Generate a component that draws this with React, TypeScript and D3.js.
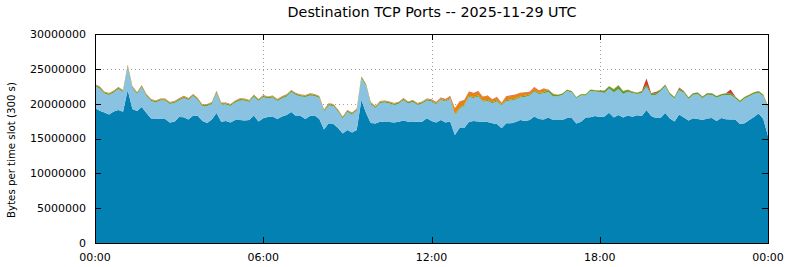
import React from "react";
import * as d3 from "d3";

const TITLE = "Destination TCP Ports -- 2025-11-29 UTC";
const Y_LABEL = "Bytes per time slot (300 s)";
const STEP_MIN = 10;
const UNIT = 1e6; // series below are in millions of bytes

const yTicks = [0, 5000000, 10000000, 15000000, 20000000, 25000000, 30000000];
const xTickMinutes = [0, 360, 720, 1080, 1440];
const xTickLabels = ["00:00", "06:00", "12:00", "18:00", "00:00"];

const darkBlue = [
  19.38, 18.99, 18.73, 18.44, 18.88, 19.09, 18.85, 21.96, 19.23, 18.95,
  19.52, 18.66, 17.87, 17.87, 17.8, 17.8, 17.3, 17.41, 18.09, 18.04,
  17.73, 18.3, 18.23, 17.51, 17.22, 17.73, 18.66, 17.41, 17.51, 17.3,
  17.66, 17.66, 17.58, 17.66, 18.3, 17.44, 17.9, 18.09, 18.16, 17.8,
  18.16, 18.37, 18.8, 18.23, 18.23, 17.8, 18.23, 18.3, 17.8, 16.29,
  17.18, 17.08, 16.51, 15.72, 16.22, 15.86, 16.22, 20.53, 18.66, 17.22,
  17.15, 17.41, 17.37, 17.37, 17.3, 17.41, 17.58, 17.41, 17.44, 17.41,
  17.41, 17.9, 17.51, 17.3, 17.66, 17.3, 17.44, 15.5, 16.51, 16.51,
  17.37, 17.51, 17.44, 17.41, 17.37, 17.18, 17.08, 16.46, 17.18, 17.18,
  17.37, 17.66, 17.51, 17.66, 18.16, 17.8, 17.73, 18.01, 17.66, 17.66,
  17.66, 17.94, 17.94, 17.15, 17.41, 18.01, 18.04, 18.23, 18.09, 18.16,
  18.7, 18.01, 18.37, 18.01, 18.3, 18.13, 18.33, 18.23, 19.09, 18.23,
  17.94, 17.94, 18.66, 17.87, 17.44, 18.44, 18.01, 17.58, 17.9, 17.8,
  17.66, 17.87, 17.94, 17.51, 17.94, 17.76, 17.73, 17.73, 17.08, 17.18,
  17.66, 18.09, 18.59, 17.8, 15.36,
];

const lightBlue = [
  3.14, 3.15, 2.72, 2.79, 2.71, 3.0, 2.81, 3.29, 3.01, 2.42,
  2.86, 2.43, 2.5, 2.28, 2.64, 2.64, 2.64, 2.67, 2.35, 2.76,
  2.78, 2.79, 2.28, 2.07, 2.43, 2.21, 2.86, 2.46, 2.36, 2.35,
  2.49, 2.81, 2.86, 2.57, 2.72, 2.93, 3.04, 2.64, 2.71, 2.57,
  2.57, 2.65, 2.86, 3.0, 2.79, 3.14, 2.96, 2.79, 3.0, 2.57,
  2.57, 2.57, 2.35, 2.14, 2.57, 2.57, 2.79, 3.07, 3.86, 2.72,
  2.22, 2.67, 2.78, 2.64, 2.5, 2.57, 2.93, 2.6, 2.79, 2.39,
  2.6, 2.54, 2.79, 2.58, 2.87, 3.01, 3.23, 2.87, 2.72, 3.23,
  3.59, 3.3, 3.59, 2.87, 3.01, 2.87, 3.23, 3.28, 3.2, 3.27,
  3.23, 3.23, 3.45, 3.51, 3.56, 3.59, 3.76, 3.66, 3.37, 3.4,
  3.58, 3.88, 3.66, 3.66, 3.76, 3.16, 3.78, 3.52, 3.58, 3.37,
  3.48, 3.59, 3.74, 3.38, 3.42, 3.36, 3.06, 3.3, 3.35, 3.01,
  3.3, 3.83, 3.83, 3.4, 3.3, 3.48, 3.55, 3.08, 3.37, 3.54,
  3.11, 3.4, 3.29, 3.33, 3.19, 3.47, 3.51, 3.04, 3.12, 3.56,
  3.4, 3.28, 2.97, 3.26, 4.05,
];

const green = [
  0.2, 0.21, 0.2, 0.19, 0.2, 0.21, 0.2, 0.22, 0.2, 0.19,
  0.2, 0.2, 0.19, 0.2, 0.21, 0.2, 0.19, 0.2, 0.2, 0.21,
  0.2, 0.19, 0.2, 0.21, 0.2, 0.2, 0.22, 0.2, 0.19, 0.2,
  0.2, 0.21, 0.2, 0.2, 0.19, 0.2, 0.21, 0.2, 0.2, 0.19,
  0.2, 0.21, 0.2, 0.19, 0.2, 0.2, 0.21, 0.2, 0.2, 0.19,
  0.2, 0.2, 0.19, 0.2, 0.2, 0.21, 0.2, 0.22, 0.2, 0.2,
  0.19, 0.2, 0.2, 0.21, 0.2, 0.19, 0.2, 0.2, 0.21, 0.2,
  0.2, 0.19, 0.2, 0.15, 0.15, 0.15, 0.14, 0.16, 0.15, 0.15,
  0.15, 0.14, 0.15, 0.15, 0.15, 0.16, 0.15, 0.15, 0.15, 0.14,
  0.15, 0.15, 0.16, 0.15, 0.15, 0.15, 0.16, 0.3, 0.33, 0.18,
  0.18, 0.18, 0.18, 0.13, 0.18, 0.18, 0.18, 0.18, 0.18, 0.32,
  0.32, 0.45, 0.5, 0.38, 0.28, 0.2, 0.19, 0.24, 0.3, 0.25,
  0.25, 0.22, 0.22, 0.22, 0.22, 0.26, 0.22, 0.22, 0.22, 0.22,
  0.22, 0.22, 0.22, 0.22, 0.22, 0.22, 0.26, 0.22, 0.22, 0.22,
  0.22, 0.22, 0.22, 0.22, 0.22,
];

const orange = [
  0.06, 0.06, 0.05, 0.06, 0.07, 0.06, 0.06, 0.08, 0.06, 0.05,
  0.06, 0.06, 0.07, 0.06, 0.05, 0.06, 0.07, 0.06, 0.08, 0.08,
  0.08, 0.07, 0.06, 0.06, 0.05, 0.06, 0.07, 0.06, 0.06, 0.05,
  0.06, 0.06, 0.07, 0.06, 0.06, 0.05, 0.06, 0.06, 0.07, 0.08,
  0.08, 0.07, 0.06, 0.06, 0.05, 0.06, 0.06, 0.05, 0.06, 0.06,
  0.06, 0.05, 0.06, 0.06, 0.05, 0.06, 0.06, 0.07, 0.06, 0.06,
  0.06, 0.07, 0.06, 0.06, 0.05, 0.06, 0.06, 0.07, 0.06, 0.06,
  0.06, 0.07, 0.08, 0.13, 0.13, 0.13, 0.2, 0.73, 0.85, 0.56,
  0.56, 0.49, 0.56, 0.49, 0.56, 0.34, 0.42, 0.17, 0.49, 0.49,
  0.49, 0.46, 0.42, 0.3, 0.44, 0.27, 0.46, 0.03, 0.06, 0.01,
  0.02, 0.02, 0.02, 0.005, 0.02, 0.02, 0.02, 0.02, 0.02, 0.02,
  0.02, 0.03, 0.04, 0.03, 0.02, 0.02, 0.02, 0.03, 0.0, 0.02,
  0.0, 0.02, 0.02, 0.02, 0.02, 0.0, 0.02, 0.02, 0.02, 0.02,
  0.02, 0.02, 0.02, 0.02, 0.02, 0.02, 0.0, 0.02, 0.02, 0.02,
  0.02, 0.02, 0.02, 0.02, 0.02,
];

const red = [
  0.04, 0.04, 0.04, 0.04, 0.04, 0.04, 0.04, 0.04, 0.04, 0.04,
  0.04, 0.04, 0.04, 0.04, 0.04, 0.04, 0.04, 0.04, 0.04, 0.04,
  0.04, 0.04, 0.04, 0.04, 0.04, 0.04, 0.04, 0.04, 0.04, 0.04,
  0.04, 0.04, 0.04, 0.04, 0.04, 0.04, 0.04, 0.04, 0.04, 0.04,
  0.04, 0.04, 0.04, 0.04, 0.04, 0.04, 0.04, 0.04, 0.04, 0.04,
  0.04, 0.04, 0.04, 0.04, 0.04, 0.04, 0.04, 0.04, 0.04, 0.04,
  0.04, 0.04, 0.04, 0.04, 0.04, 0.04, 0.04, 0.04, 0.04, 0.04,
  0.04, 0.04, 0.04, 0.08, 0.08, 0.08, 0.08, 0.08, 0.08, 0.08,
  0.08, 0.08, 0.08, 0.08, 0.08, 0.08, 0.08, 0.08, 0.08, 0.08,
  0.08, 0.08, 0.08, 0.08, 0.08, 0.08, 0.08, 0.03, 0.04, 0.02,
  0.02, 0.02, 0.02, 0.005, 0.02, 0.02, 0.02, 0.02, 0.02, 0.02,
  0.02, 0.02, 0.02, 0.02, 0.02, 0.02, 0.02, 0.02, 0.88, 0.02,
  0.18, 0.02, 0.02, 0.02, 0.02, 0.14, 0.02, 0.02, 0.02, 0.02,
  0.02, 0.02, 0.02, 0.02, 0.02, 0.02, 0.53, 0.02, 0.02, 0.02,
  0.02, 0.02, 0.02, 0.02, 0.02,
];

const seriesKeys = ["darkBlue", "lightBlue", "green", "orange", "red"];
const seriesColors = ["#0381b3", "#8ac2e2", "#5e9f2c", "#e8830c", "#c83a22"];

const FONT = "DejaVu Sans, sans-serif";

export default function App() {
  const W = 790;
  const H = 267;
  const left = 95;
  const right = 768;
  const top = 34;
  const bottom = 243;

  const x = d3.scaleLinear().domain([0, 1440]).range([left, right]);
  const y = d3.scaleLinear().domain([0, 30000000]).range([bottom, top]);

  const rows = darkBlue.map((_, i) => ({
    t: i * STEP_MIN,
    darkBlue: darkBlue[i] * UNIT,
    lightBlue: lightBlue[i] * UNIT,
    green: green[i] * UNIT,
    orange: orange[i] * UNIT,
    red: red[i] * UNIT,
  }));

  const stacked = d3.stack<any>().keys(seriesKeys)(rows);
  const area = d3
    .area<any>()
    .x((d) => x(d.data.t))
    .y0((d) => y(d[0]))
    .y1((d) => y(d[1]));

  const gridY = yTicks.filter((v) => v > 0 && v < 30000000);
  const gridX = xTickMinutes.filter((v) => v > 0 && v < 1440);

  return (
    <>
      <style>{`body{margin:0}`}</style>
      <svg width={W} height={H} style={{ display: "block", background: "#fff" }}>
        <rect x={0} y={0} width={W} height={H} fill="#fff" />
        {/* grid */}
        <g stroke="#a0a0a0" strokeWidth={1} strokeDasharray="1,3">
          {gridY.map((v) => (
            <line key={"gy" + v} x1={left} x2={right} y1={Math.round(y(v)) + 0.5} y2={Math.round(y(v)) + 0.5} />
          ))}
          {gridX.map((v) => (
            <line key={"gx" + v} x1={Math.round(x(v)) + 0.5} x2={Math.round(x(v)) + 0.5} y1={top} y2={bottom} />
          ))}
        </g>
        {/* stacked areas */}
        <g>
          {stacked.map((s, i) => (
            <path key={seriesKeys[i]} d={area(s) || ""} fill={seriesColors[i]} />
          ))}
        </g>
        {/* ticks */}
        <g stroke="#000" strokeWidth={1}>
          {yTicks.map((v) => {
            const yy = Math.round(y(v)) + 0.5;
            return (
              <g key={"yt" + v}>
                <line x1={left} x2={left + 6} y1={yy} y2={yy} />
                <line x1={right - 6} x2={right} y1={yy} y2={yy} />
              </g>
            );
          })}
          {xTickMinutes.map((v) => {
            const xx = Math.round(x(v)) + 0.5;
            return (
              <g key={"xt" + v}>
                <line x1={xx} x2={xx} y1={bottom} y2={bottom - 6} />
                <line x1={xx} x2={xx} y1={top} y2={top + 6} />
              </g>
            );
          })}
        </g>
        {/* border */}
        <rect x={left + 0.5} y={top + 0.5} width={right - left} height={bottom - top} fill="none" stroke="#000" strokeWidth={1} />
        {/* labels */}
        <g fontFamily={FONT} fontSize={11} fill="#000">
          {yTicks.map((v) => (
            <text key={"yl" + v} x={86} y={y(v)} dy="0.36em" textAnchor="end">
              {String(v)}
            </text>
          ))}
          {xTickMinutes.map((v, i) => (
            <text key={"xl" + i} x={x(v)} y={261} textAnchor="middle">
              {xTickLabels[i]}
            </text>
          ))}
        </g>
        <text
          transform={`translate(15,150) rotate(-90)`}
          textAnchor="middle"
          fontFamily={FONT}
          fontSize={10.2}
          fill="#000"
        >
          {Y_LABEL}
        </text>
        <text x={432} y={17} textAnchor="middle" fontFamily={FONT} fontSize={14.3} fill="#000">
          {TITLE}
        </text>
      </svg>
    </>
  );
}
